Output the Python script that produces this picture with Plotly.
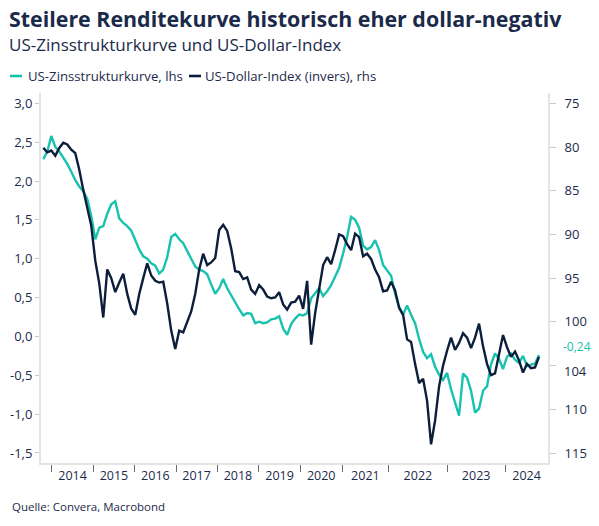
import plotly.graph_objects as go

# US yield curve (10y-2y), lhs, in percentage points
curve = [2.28, 2.38, 2.58, 2.44, 2.38, 2.30, 2.22, 2.12, 2.01, 1.93,
         1.87, 1.77, 1.55, 1.25, 1.40, 1.42, 1.58, 1.70, 1.74, 1.52,
         1.46, 1.42, 1.36, 1.24, 1.12, 1.03, 1.00, 0.94, 0.91, 0.81,
         0.86, 1.02, 1.28, 1.32, 1.25, 1.20, 1.09, 1.00, 0.90, 0.86,
         0.84, 0.80, 0.67, 0.55, 0.62, 0.74, 0.62, 0.52, 0.44, 0.35,
         0.27, 0.30, 0.29, 0.17, 0.19, 0.17, 0.18, 0.22, 0.23, 0.26,
         0.10, 0.02, 0.16, 0.23, 0.28, 0.27, 0.30, 0.49, 0.55, 0.62,
         0.52, 0.58, 0.66, 0.77, 0.88, 1.07, 1.28, 1.54, 1.50, 1.40,
         1.17, 1.12, 1.15, 1.24, 1.11, 0.92, 0.85, 0.78, 0.55, 0.38,
         0.28, 0.40, 0.28, 0.17, -0.03, -0.20, -0.28, -0.23, -0.39, -0.49,
         -0.56, -0.47, -0.68, -0.85, -1.02, -0.48, -0.53, -0.70, -0.98, -0.93,
         -0.70, -0.64, -0.36, -0.22, -0.29, -0.42, -0.26, -0.22, -0.30, -0.34,
         -0.25, -0.38, -0.36, -0.35, -0.24]

# US Dollar Index, rhs (inverted)
dxy = [80.1, 80.6, 80.4, 81.0, 80.1, 79.5, 79.7, 80.3, 80.7, 82.6,
       84.9, 86.8, 89.0, 93.0, 95.6, 99.5, 94.0, 95.0, 96.6, 95.5,
       94.5, 96.8, 98.5, 99.2, 96.8, 95.0, 93.3, 94.7, 95.3, 95.5,
       95.4, 97.9, 101.0, 103.1, 101.0, 101.2, 100.0, 98.8, 96.8, 94.0,
       92.2, 93.5, 93.2, 92.7, 89.5, 88.9, 89.6, 91.6, 94.2, 94.3,
       95.1, 94.9, 96.3, 96.8, 95.8, 96.3, 97.1, 97.3, 97.2, 96.6,
       98.0, 98.6, 97.8, 97.7, 97.0, 98.5, 95.3, 102.6, 99.0, 96.3,
       93.5, 92.6, 93.4, 91.8, 90.0, 90.2, 91.1, 91.8, 89.9, 90.3,
       92.5, 92.2, 92.8, 94.0, 94.9, 96.5, 96.4, 95.4, 96.4, 98.4,
       99.2, 102.0, 102.3, 104.8, 107.0, 106.5, 109.0, 114.0, 111.3, 107.4,
       105.0, 103.3, 101.8, 103.2, 102.4, 101.3, 101.8, 103.0, 101.8, 100.2,
       102.8, 104.8, 106.1, 105.9, 103.6, 101.5, 102.9, 104.0, 103.4, 104.4,
       105.8, 104.8, 105.3, 105.2, 104.0]

# observation number at which each calendar year starts
years = ["2014", "2015", "2016", "2017", "2018", "2019", "2020", "2021", "2022", "2023", "2024"]
year_starts = [2.15, 12.48, 22.88, 33.2, 43.5, 53.9, 64.3, 74.75, 86.4, 101.0, 115.55]

left_ticks = [3.0, 2.5, 2.0, 1.5, 1.0, 0.5, 0.0, -0.5, -1.0, -1.5]
right_ticks = [75, 80, 85, 90, 95, 100, 105, 110, 115]
right_labels = ["75", "80", "85", "90", "95", "100", "", "110", "115"]

series_names = ["US-Zinsstrukturkurve, lhs", "US-Dollar-Index (invers), rhs"]

TEAL = "#17c2ae"
NAVY = "#0c1e3c"
TXT = "#1b2a4a"
FONT = "Open Sans"

obs = list(range(len(curve)))
x_range = [-0.575, 126.25]
ends = year_starts[1:] + [x_range[1]]
mids = [(a + b) / 2 for a, b in zip(year_starts, ends)]

fig = go.Figure()
fig.add_trace(go.Scatter(x=obs, y=curve, mode="lines", name=series_names[0],
                         line=dict(color=TEAL, width=2.4)))
fig.add_trace(go.Scatter(x=obs, y=dxy, mode="lines", name=series_names[1],
                         yaxis="y2", line=dict(color=NAVY, width=2.4)))

fig.update_layout(
    width=599, height=526,
    margin=dict(l=41, r=51, t=93, b=63, autoexpand=False),
    paper_bgcolor="white", plot_bgcolor="white",
    font=dict(family=FONT, color=TXT, size=12),
    showlegend=False,
    xaxis=dict(range=x_range, tickmode="array", tickvals=mids, ticktext=years,
               ticks="", showgrid=False, zeroline=False, showline=True,
               linecolor="#e4e4e4", linewidth=2, tickfont=dict(size=12.5, color=TXT),
               minor=dict(tickmode="array", tickvals=year_starts, ticks="outside",
                          ticklen=7, tickcolor="#6b6b6b", tickwidth=1, showgrid=False)),
    yaxis=dict(range=[-1.629, 3.133], tickmode="array", tickvals=left_ticks,
               ticktext=[f"{v:.1f}".replace(".", ",") for v in left_ticks],
               ticks="outside", ticklen=4, tickcolor="#c8c8c8", showgrid=False,
               zeroline=False, showline=True, linecolor="#e4e4e4", linewidth=2,
               tickfont=dict(size=13, color=TXT)),
    yaxis2=dict(range=[116.14, 73.82], overlaying="y", side="right",
                tickmode="array", tickvals=right_ticks, ticktext=right_labels,
                ticks="outside", ticklen=6, tickcolor="#c8c8c8", showgrid=False,
                zeroline=False, showline=True, linecolor="#e4e4e4", linewidth=2,
                ticklabelstandoff=6, tickfont=dict(size=13, color=TXT)),
)

fig.add_annotation(text="<b>Steilere Renditekurve historisch eher dollar-negativ</b>",
                   xref="paper", yref="paper", x=0, y=1, xshift=-34, yshift=75,
                   xanchor="left", yanchor="middle", showarrow=False,
                   font=dict(size=21.4, color=TXT, family=FONT))
fig.add_annotation(text="US-Zinsstrukturkurve und US-Dollar-Index",
                   xref="paper", yref="paper", x=0, y=1, xshift=-34, yshift=49,
                   xanchor="left", yanchor="middle", showarrow=False,
                   font=dict(size=17, color=TXT, family=FONT))
fig.add_annotation(text="Quelle: Convera, Macrobond",
                   xref="paper", yref="paper", x=0, y=0, xshift=-31, yshift=-43,
                   xanchor="left", yanchor="middle", showarrow=False,
                   font=dict(size=11.5, color=TXT, family=FONT))

# legend row (short line sample + label), drawn as in the reference
for name, color, lx0, tx in [(series_names[0], TEAL, -31, -15),
                             (series_names[1], NAVY, 148, 162)]:
    fig.add_shape(type="line", xref="paper", yref="paper", xsizemode="pixel",
                  ysizemode="pixel", xanchor=0, yanchor=1, x0=lx0, x1=lx0 + 12,
                  y0=17, y1=17, line=dict(color=color, width=2.6))
    fig.add_annotation(text=name, xref="paper", yref="paper", x=0, y=1,
                       xshift=tx, yshift=17, xanchor="left", yanchor="middle",
                       showarrow=False, font=dict(size=13.2, color=TXT, family=FONT))

# last-value labels
fig.add_annotation(text=f"{curve[-1]:.2f}".replace(".", ","), xref="paper", yref="y",
                   x=1, y=curve[-1], xanchor="left", yanchor="middle", xshift=13, yshift=9,
                   showarrow=False, font=dict(size=12, color=TEAL, family=FONT))
fig.add_annotation(text=f"{dxy[-1]:.0f}", xref="paper", yref="y2",
                   x=1, y=dxy[-1], xanchor="left", yanchor="middle", xshift=14, yshift=-14,
                   showarrow=False, font=dict(size=13, color=TXT, family=FONT))

# page without the browser's default 8px body margin, so the figure fills the window
fig.write_html("out.html", config={"displayModeBar": False},
               post_script="document.body.style.margin='0px';")
